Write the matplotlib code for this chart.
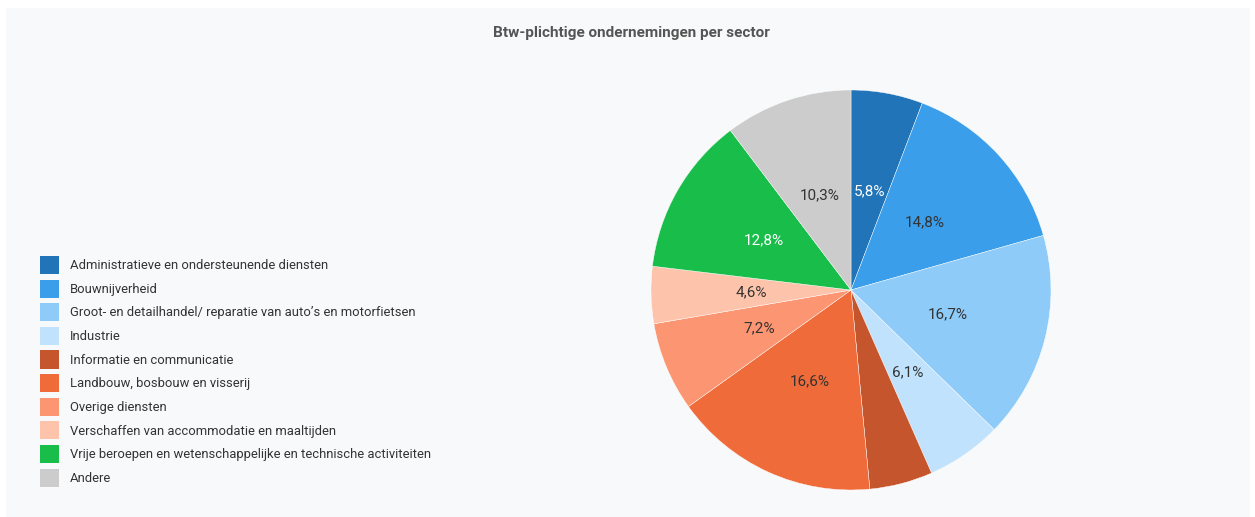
import matplotlib
matplotlib.use("Agg")
import matplotlib.pyplot as plt
from matplotlib.patches import Patch, FancyBboxPatch

plt.rcParams["font.family"] = ["Roboto", "DejaVu Sans"]

sectors = [
    "Administratieve en ondersteunende diensten",
    "Bouwnijverheid",
    "Groot- en detailhandel/ reparatie van auto’s en motorfietsen",
    "Industrie",
    "Informatie en communicatie",
    "Landbouw, bosbouw en visserij",
    "Overige diensten",
    "Verschaffen van accommodatie en maaltijden",
    "Vrije beroepen en wetenschappelijke en technische activiteiten",
    "Andere",
]
shares = [5.8, 14.8, 16.7, 6.1, 5.1, 16.6, 7.2, 4.6, 12.8, 10.3]
colors = ["#2074b7", "#3a9eea", "#8ecbf9", "#c0e2fc", "#c4552c",
          "#f06b3a", "#fc9571", "#fec4ab", "#19bd4a", "#cccccc"]
label_colors = ["white", "#333333", "#333333", "#333333", "white",
                "#333333", "#333333", "#333333", "white", "#333333"]
show_label = [True, True, True, True, False, True, True, True, True, True]

W, H = 1255, 517
fig = plt.figure(figsize=(W / 100, H / 100), dpi=100)
fig.patch.set_facecolor("white")

# light panel behind the chart
fig.add_artist(FancyBboxPatch((6 / W, 0), (W - 11) / W, (H - 8) / H,
                              boxstyle="square,pad=0", transform=fig.transFigure,
                              facecolor="#f8f9fa", edgecolor="none", zorder=0))

fig.text(631 / W, 1 - 33 / H, "Btw-plichtige ondernemingen per sector",
         ha="center", va="center", fontsize=11, fontweight="bold", color="#555555")

cx, cy, r = 851, 290, 200
ax = fig.add_axes([(cx - r) / W, (H - cy - r) / H, 2 * r / W, 2 * r / H])
ax.set_facecolor("none")

def fmt(p):
    return f"{p:.1f}".replace(".", ",") + "%"

wedges, texts, autotexts = ax.pie(
    shares, colors=colors, startangle=90, counterclock=False,
    autopct=lambda p: fmt(p), pctdistance=0.5,
    wedgeprops=dict(edgecolor="white", linewidth=0.3),
    textprops=dict(fontsize=11))
for t, c, s in zip(autotexts, label_colors, show_label):
    t.set_color(c)
    t.set_visible(s)
ax.set_xlim(-1, 1)
ax.set_ylim(-1, 1)
ax.set_aspect("equal")
ax.axis("off")

handles = [Patch(facecolor=c, edgecolor="none") for c in colors]
leg = fig.legend(handles, sectors, loc="upper left",
                 bbox_to_anchor=(40 / W, 1 - 256 / H), frameon=False,
                 fontsize=9.35, handlelength=1.46, handleheight=1.76,
                 handletextpad=0.84, labelspacing=0.43, borderaxespad=0,
                 borderpad=0)
for txt in leg.get_texts():
    txt.set_color("#333333")

fig.savefig("out.png", dpi=100, facecolor=fig.get_facecolor())
